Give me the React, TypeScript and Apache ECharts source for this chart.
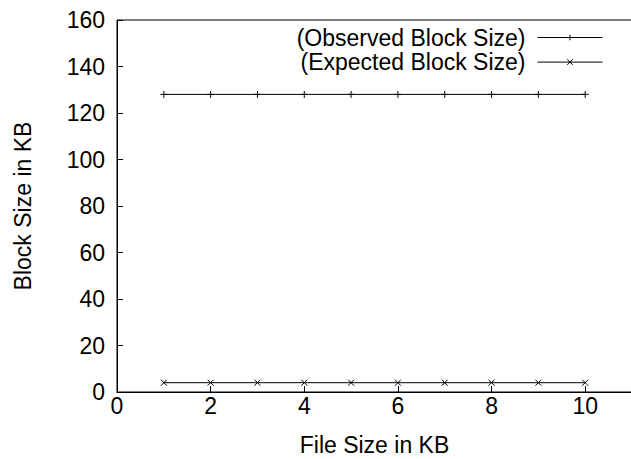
import React, { useEffect, useRef } from "react";
import * as echarts from "echarts";

const fileSizes = [1, 2, 3, 4, 5, 6, 7, 8, 9, 10];
const observed = [128, 128, 128, 128, 128, 128, 128, 128, 128, 128];
const expected = [4, 4, 4, 4, 4, 4, 4, 4, 4, 4];
const seriesNames = ["(Observed Block Size)", "(Expected Block Size)"];

const FONT = "'Liberation Sans', Arial, Helvetica, sans-serif";
const PLUS = "path://M5,0L5,10M0,5L10,5";
const CROSS = "path://M0,0L10,10M0,10L10,0";

export default function App() {
  const ref = useRef<HTMLDivElement>(null);
  useEffect(() => {
    if (!ref.current) return;
    const chart = echarts.init(ref.current, null, { renderer: "svg" });
    const mk = (name: string, vals: number[], sym: string, size: number) => ({
      name,
      type: "line",
      data: fileSizes.map((x, i) => [x, vals[i]]),
      symbol: sym,
      symbolSize: size,
      showAllSymbol: true,
      silent: true,
      lineStyle: { color: "#000", width: 1 },
      itemStyle: { color: "#000", borderColor: "#000", borderWidth: 1 },
      emphasis: { disabled: true },
    });
    chart.setOption({
      animation: false,
      backgroundColor: "#fff",
      textStyle: { fontFamily: FONT },
      grid: {
        left: 117,
        top: 20,
        width: 515,
        bottom: 67,
        show: true,
        borderColor: "#000",
        borderWidth: 1,
        containLabel: false,
        outerBoundsMode: "none",
      },
      legend: {
        orient: "vertical",
        align: "right",
        right: 23,
        top: 21,
        itemWidth: 65,
        itemHeight: 7,
        itemGap: 1.6,
        selectedMode: false,
        data: seriesNames,
        itemStyle: { color: "#000", borderColor: "#000", borderWidth: 1 },
        lineStyle: { color: "#000", width: 1 },
        textStyle: {
          fontFamily: FONT,
          fontSize: 23,
          lineHeight: 23,
          color: "#000",
          padding: [0, 7, 0, 0],
        },
      },
      xAxis: {
        type: "value",
        min: 0,
        max: 11,
        interval: 2,
        name: "File Size in KB",
        nameLocation: "middle",
        nameGap: 44,
        nameTextStyle: { fontFamily: FONT, fontSize: 23, lineHeight: 18, color: "#000" },
        axisLine: { show: true, lineStyle: { color: "#000", width: 1 } },
        axisTick: { show: true, inside: true, length: 6, lineStyle: { color: "#000" } },
        axisLabel: {
          fontFamily: FONT,
          fontSize: 23,
          color: "#000",
          margin: 2,
          showMaxLabel: false,
        },
        splitLine: { show: false },
      },
      yAxis: {
        type: "value",
        min: 0,
        max: 160,
        interval: 20,
        name: "Block Size in KB",
        nameLocation: "middle",
        nameRotate: 90,
        nameGap: 83,
        nameTextStyle: { fontFamily: FONT, fontSize: 23, color: "#000" },
        axisLine: { show: true, lineStyle: { color: "#000", width: 1 } },
        axisTick: { show: true, inside: true, length: 6, lineStyle: { color: "#000" } },
        axisLabel: { fontFamily: FONT, fontSize: 23, color: "#000", margin: 12 },
        splitLine: { show: false },
      },
      series: [
        mk(seriesNames[0], observed, PLUS, 7),
        mk(seriesNames[1], expected, CROSS, 6),
      ],
    });
    return () => chart.dispose();
  }, []);
  return (
    <div
      ref={ref}
      style={{ position: "fixed", left: 0, top: 0, width: 631, height: 459 }}
    />
  );
}
